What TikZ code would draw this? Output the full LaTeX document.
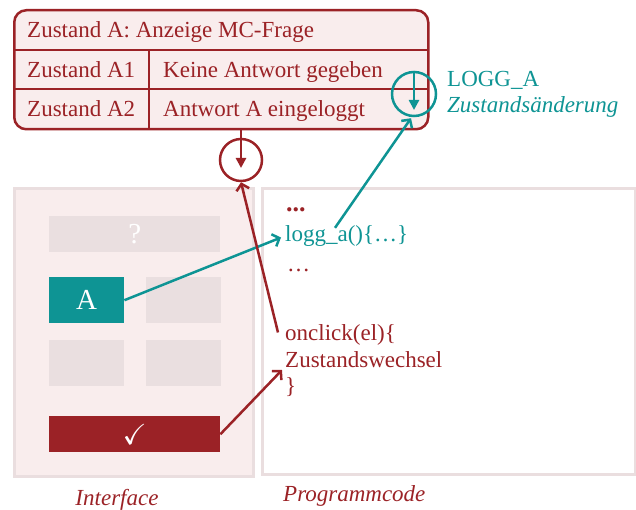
\documentclass[tikz,border=0pt]{standalone}
\usepackage{amssymb}
\usepackage{fontspec}
\setmainfont{Liberation Serif}
\usepackage{tikz}
\usetikzlibrary{arrows.meta,calc}

\definecolor{dunkelrot}{RGB}{155,34,38}
\definecolor{petrol}{RGB}{14,148,148}
\definecolor{hellrosa}{RGB}{249,237,237}
\definecolor{hellgrau}{RGB}{234,223,224}
\definecolor{rahmen}{RGB}{234,222,223}
\newcommand{\groesse}{\fontsize{23}{27}\selectfont}

\begin{document}
\begin{tikzpicture}[x=1pt,y=1pt,yscale=-1,xscale=1,
  every node/.append style={font=\groesse},
  rottext/.style={text=dunkelrot,inner sep=0pt,anchor=base west},
  tuertext/.style={text=petrol,inner sep=0pt,anchor=base west},
  kasten/.style={minimum width=75,minimum height=46,anchor=north west,inner sep=0pt,font=\fontsize{29}{30}\selectfont},
  rotpfeil/.style={draw=dunkelrot,line width=2.5,-{Straight Barb[length=6pt,width=13pt]}},
  tuerpfeil/.style={draw=petrol,line width=2.5,-{Straight Barb[length=6pt,width=13pt]}}]
\useasboundingbox (0,0) rectangle (636,510);

% Zustandstabelle
\node (tabelle) [draw=dunkelrot,fill=hellrosa,line width=2.5,rounded corners=12,minimum width=414,minimum height=119,anchor=north west,inner sep=0pt] at (13,9) {};
\draw [dunkelrot,line width=1.2] (13,50) -- (427,50) ;
\draw [dunkelrot,line width=1.2] (13,89) -- (427,89) ;
\draw [dunkelrot,line width=1.2] (149,50) -- (149,128) ;
% Text Node
\node (kopf) [rottext] at (27,38) {Zustand A: Anzeige MC-Frage};
\node (zustandeins) [rottext] at (27,78) {Zustand A1};
\node (keine) [rottext] at (163,78) {Keine Antwort gegeben};
\node (zustandzwei) [rottext] at (27,117) {Zustand A2};
\node (eingeloggt) [rottext] at (163,117) {Antwort A eingeloggt};

% Interface
\node (interface) [draw=rahmen,fill=hellrosa,line width=3,minimum width=239,minimum height=288,anchor=north west,inner sep=0pt] at (13,187) {};
\node (frage) [kasten,fill=hellgrau,text=white,minimum width=171,minimum height=36] at (49,216) {?};
\node (antwortA) [kasten,fill=petrol,text=white] at (49,277) {A};
\node (antwortB) [kasten,fill=hellgrau] at (146,277) {};
\node (antwortC) [kasten,fill=hellgrau] at (49,340) {};
\node (antwortD) [kasten,fill=hellgrau] at (146,340) {};
\node (abschicken) [kasten,fill=dunkelrot,text=white,minimum width=171,minimum height=36] at (49,416) {$\checkmark$};
\node (lbinterface) [rottext,font=\groesse\itshape,anchor=base] at (117,505) {Interface};

% Programmcode
\node (programm) [draw=rahmen,fill=white,line width=3,minimum width=373,minimum height=286,anchor=north west,inner sep=0pt] at (261,187) {};
\node (punkteoben) [rottext,font=\fontsize{26}{27}\selectfont\bfseries] at (286,212) {...};
\node (logga) [tuertext] at (285,242) {logg\_a()\{…\}};
\node (punkteunten) [rottext] at (287,272) {…};
\node (onclick) [rottext] at (285,340) {onclick(el)\{};
\node (wechsel) [rottext] at (285,367) {Zustandswechsel};
\node (klammer) [rottext] at (285,393) {\}};
\node (lbprogramm) [rottext,font=\groesse\itshape] at (283,501) {Programmcode};

% Kreise
\node (rotkreis) [circle,draw=dunkelrot,line width=2.5,minimum size=42,inner sep=0pt] at (241,160) {};
\node (tuerkreis) [circle,draw=petrol,line width=2.5,minimum size=44,inner sep=0pt] at (414,94) {};
\node (logg) [tuertext] at (447,87) {LOGG\_A};
\node (aenderung) [tuertext,font=\groesse\itshape] at (447,113) {Zustandsänderung};

% Connection
\draw [dunkelrot,line width=2.5,-{Triangle[length=10pt,width=10pt]}] (rotkreis |- tabelle.south) -- ($(rotkreis.center)+(0,8)$) ;
% Connection
\draw [petrol,line width=2.5,-{Triangle[length=10pt,width=10pt]}] (tuerkreis.north) -- ($(tuerkreis.center)+(0,16)$) ;
% Connection
\draw [tuerpfeil] (antwortA.east) -- ($(logga.west)+(-4,1)$) ;
% Connection
\draw [tuerpfeil] ($(logga.north west)+(50,2)$) -- ($(tuerkreis.south)+(-3,1)$) ;
% Connection
\draw [rotpfeil] ($(onclick.west)+(-7,-2)$) -- (rotkreis.south) ;
% Connection
\draw [rotpfeil] (abschicken.east) -- ($(wechsel.base west)+(-3,3)$) ;

\end{tikzpicture}
\end{document}
